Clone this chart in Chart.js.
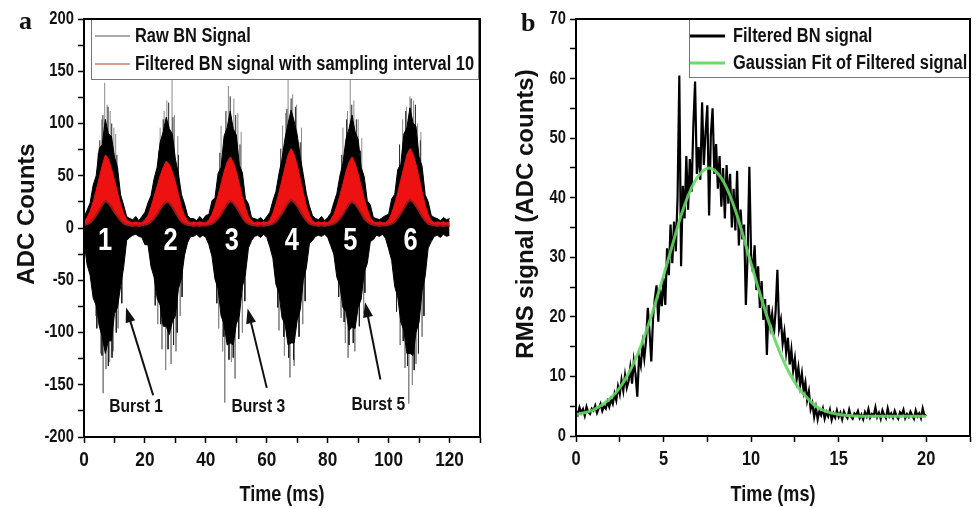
<!doctype html>
<html lang="en">
 <head>
  <meta charset="utf-8">
  <title>BN signal bursts</title>
  <style>
body { margin: 0; background: #fff; }
.wrap { position: relative; width: 976px; height: 508px; overflow: hidden; }
.panel { position: absolute; top: 0; }
.letter { position: absolute; font: bold 26px 'Liberation Serif', 'DejaVu Serif', serif; line-height: 1; color: #111; }
  </style>
 </head>
 <body>
  <div class="wrap">
   <canvas id="chartA" class="panel" width="488" height="508" style="left:0"></canvas>
   <canvas id="chartB" class="panel" width="488" height="508" style="left:488px"></canvas>
   <div class="letter" style="left:19px;top:8px">a</div>
   <div class="letter" style="left:521px;top:10px">b</div>
  </div>

  <script src="https://cdn.jsdelivr.net/npm/chart.js@4.4.1/dist/chart.umd.min.js"></script>
  <script>
// ---------- panel a : raw BN signal, one column per ms (0..120 ms)
var timeA0 = 0;
var timeAStep = 1;
// upper / lower edge of the black raw signal
var rawTop = [
  10, 17, 24, 41, 50, 76, 80, 104, 90, 88, 68, 58, 32, 22, 11, 9,
  8, 11, 7,
  11, 15, 24, 31, 47, 58, 82, 92, 106, 95, 90, 66, 52, 32, 23, 12, 9,
  9, 7, 11, 8,
  12, 13, 26, 29, 52, 58, 88, 96, 112, 95, 89, 60, 53, 28, 23, 10, 9,
  8, 10, 7,
  11, 15, 26, 35, 52, 66, 86, 100, 113, 102, 89, 68, 51, 33, 21, 12, 9,
  8, 11, 7,
  10, 14, 24, 33, 50, 62, 85, 95, 108, 92, 85, 58, 49, 26, 22, 10, 9,
  8, 10,
  12, 13, 28, 32, 56, 61, 90, 96, 115, 101, 97, 68, 59, 32, 25, 12, 10,
  9, 7, 10, 8, 9
];
var rawBot = [
  -12, -35, -45, -67, -74, -94, -104, -120, -108, -108, -82, -76, -56, -38, -12, -9,
  -7, -6, -8,
  -9, -16, -16, -37, -47, -67, -74, -94, -94, -102, -90, -84, -58, -48, -26, -14, -8,
  -8, -6, -9, -7,
  -9, -16, -27, -49, -58, -84, -92, -112, -110, -112, -92, -84, -56, -44, -19, -12, -8,
  -7, -9, -6,
  -9, -18, -29, -54, -62, -86, -92, -112, -110, -110, -88, -78, -50, -38, -15, -12, -8,
  -7, -8, -6,
  -9, -17, -25, -47, -55, -76, -80, -98, -95, -96, -76, -68, -42, -34, -13, -11, -7,
  -8, -6,
  -10, -20, -31, -56, -66, -90, -98, -120, -120, -122, -100, -90, -60, -46, -19, -13, -8,
  -7, -9, -6, -8, -7
];
// filtered signal (sampling interval 10), red band
var redTop = [
  6, 10, 16, 25, 36, 48, 60, 70, 66, 57, 46, 34, 23, 14, 8, 6,
  5, 6, 5,
  5, 8, 12, 20, 30, 40, 50, 58, 64, 61, 54, 44, 32, 20, 12, 7, 5,
  6, 5, 6, 5,
  5, 8, 13, 21, 31, 42, 54, 63, 68, 63, 54, 42, 30, 19, 11, 7, 5,
  6, 5, 6,
  5, 8, 14, 23, 34, 46, 58, 70, 76, 70, 60, 47, 34, 21, 12, 7, 5,
  6, 5, 6,
  5, 8, 13, 21, 31, 42, 54, 63, 68, 62, 52, 40, 28, 18, 10, 6, 5,
  6, 5,
  5, 8, 14, 23, 34, 46, 58, 70, 76, 71, 61, 48, 35, 22, 13, 7, 5,
  6, 5, 6, 5, 6
];
var redBot = [
  2.5, 3.5, 5, 8, 12, 17, 22, 26, 24, 20, 15, 11, 7, 4.5, 3, 2.5,
  2, 2.5, 2,
  2.5, 3, 4, 6, 9, 13, 18, 22, 25, 24, 20, 15, 10, 6, 4, 3, 2.5,
  2, 2.5, 2, 2.5,
  2.5, 3, 4, 6, 9, 13, 18, 23, 26, 24, 20, 15, 10, 6, 4, 3, 2.5,
  2, 2.5, 2,
  2.5, 3, 4, 6, 10, 14, 19, 24, 27, 25, 21, 16, 11, 7, 4, 3, 2.5,
  2, 2.5, 2,
  2.5, 3, 4, 6, 9, 13, 18, 23, 25, 23, 19, 14, 9, 6, 4, 3, 2.5,
  2, 2.5,
  2.5, 3, 4, 6, 10, 14, 19, 24, 27, 25, 21, 16, 11, 7, 4, 3, 2.5,
  2, 2.5, 2, 2.5, 2
];
// single tall raw samples (grey)
var spikeX = [6.8, 7.6, 8.6, 5.8, 9.8, 6.3, 7.2, 8.4, 9.6, 5.5, 4.6, 10.4, 3.8, 11.2,
  28.9, 27.2, 26.3, 29.7, 26.8, 28.6, 25.6, 30.2, 25.0, 30.8, 24.2, 31.6,
  47.4, 49.2, 50.5, 46.2, 49.6, 48.4, 45.5, 45.0, 51.6, 44.2, 52.0,
  67.0, 68.5, 69.8, 66.2, 67.6, 69.0, 65.8, 65.2, 71.4, 64.0, 71.8,
  87.4, 88.6, 86.5, 90.0, 86.7, 88.9, 85.8, 85.0, 91.2, 84.4, 91.8,
  107.0, 108.2, 105.9, 109.5, 106.6, 107.8, 105.4, 109.0, 104.6, 110.6, 103.8, 111.0];
var spikeY = [139, 118, 112, 104, 96, -158, -135, -128, -118, -120, 72, 90, -84, -96,
  160, 122, 112, 108, -136, -130, -116, -118, 96, 88, -92, -84,
  136, 124, 110, -167, -144, -128, -118, 98, 92, -96, -100,
  160, 128, 118, 110, -143, -132, -122, 98, 96, -98, -92,
  160, 122, 112, 104, -124, -118, -110, 96, 86, -86, -82,
  126, 122, 116, 100, -168, -150, -134, -130, 104, 92, -112, -104];
// shorter raw samples poking out of the black band (dark)
var darkSpikeX = [5.2, 6.2, 7.9, 9.1, 10.8, 4.2, 5.9, 8.0, 9.2, 10.6, 12.4,
  24.6, 26.0, 27.8, 29.2, 31.0, 23.4, 25.2, 27.6, 29.4, 30.6, 32.2,
  44.6, 46.6, 48.0, 49.8, 51.2, 43.6, 45.9, 47.6, 49.0, 50.8, 52.8,
  64.6, 66.6, 68.0, 69.4, 71.0, 63.6, 65.6, 67.2, 68.8, 70.6, 72.6,
  84.6, 86.2, 87.9, 89.4, 90.8, 83.6, 85.4, 87.0, 88.4, 90.4, 92.2,
  103.6, 105.6, 107.4, 108.8, 110.4, 102.6, 104.8, 106.2, 108.4, 109.8, 111.6];
var darkSpikeY = [84, 108, 116, 100, 70, -96, -122, -132, -124, -100, -72,
  74, 104, 120, 106, 70, -74, -92, -116, -112, -100, -66,
  72, 112, 126, 108, 80, -72, -104, -126, -124, -106, -70,
  76, 114, 124, 116, 82, -76, -104, -124, -126, -104, -70,
  70, 104, 118, 104, 74, -66, -90, -112, -110, -94, -62,
  80, 112, 124, 118, 84, -80, -108, -132, -136, -120, -84];

var burstNumText = ['1', '2', '3', '4', '5', '6'];
var burstNumX = [6.9, 28.4, 48.5, 68.2, 87.4, 107.2];
var burstNumY = -13;
var burstLabelText = ['Burst 1', 'Burst 3', 'Burst 5'];
var burstLabelX = [17.1, 57.2, 96.6];
var burstLabelY = [-171, -171, -169];
var arrowFromX = [22.7, 60.0, 97.3];
var arrowFromY = [-160, -153, -145];
var arrowToX = [13.8, 53.7, 92.3];
var arrowToY = [-76, -77, -71];

// ---------- panel b : RMS of filtered signal, every 0.1 ms (0..20 ms)
var rmsT0 = 0;
var rmsStep = 0.1;
var rmsSignal = [
  4.2, 3.6, 4.8, 3.9, 4.5, 3.4, 4.9, 4.0, 3.7, 4.6,
  4.3, 5.1, 3.9, 4.7, 5.4, 4.2, 5.0, 4.6, 5.8, 4.9,
  6.2, 5.4, 7.1, 6.0, 8.3, 7.0, 9.4, 7.6, 10.2, 8.1,
  9.2, 11.5, 8.8, 12.6, 10.4, 6.6, 13.2, 11.8, 15.4, 13.0,
  16.0, 21.5, 17.5, 12.5, 19.8, 23.0, 25.3, 19.2, 24.6, 21.8,
  26.5, 22.0, 31.5, 27.0, 35.5, 29.0, 36.0, 31.0, 40.0, 60.5,
  28.5, 42.0, 36.5, 47.0, 38.0, 46.5, 41.0, 52.0, 59.5, 44.0,
  48.5, 43.0, 56.0, 45.5, 51.0, 55.5, 37.0, 50.5, 55.0, 44.0,
  49.0, 41.5, 47.0, 38.5, 45.0, 36.5, 45.5, 39.0, 44.0, 35.0,
  41.5, 34.5, 44.5, 32.0, 38.0, 33.0, 35.5, 22.0, 30.5, 45.2,
  30.0, 27.5, 32.0, 24.5, 28.5, 21.5, 26.0, 19.5, 23.0, 13.6,
  22.0, 18.5, 20.5, 17.0, 21.0, 27.9, 18.0, 19.5, 15.5, 17.5,
  14.0, 16.5, 12.0, 14.5, 11.0, 13.0, 9.5, 11.5, 8.5, 10.5,
  7.5, 9.0, 6.0, 7.5, 4.5, 5.5, 3.2, 4.8, 2.8, 4.2,
  3.5, 4.6, 2.9, 4.0, 3.3, 4.4, 2.7, 3.8, 3.1, 4.3,
  3.2, 3.9, 2.8, 4.1, 3.4, 3.0, 4.4, 3.3, 2.9, 3.8,
  3.5, 4.2, 3.0, 3.6, 2.8, 4.0, 3.3, 4.5, 3.1, 3.7,
  3.4, 4.8, 3.2, 3.9, 2.9, 4.3, 3.5, 3.0, 4.6, 3.3,
  3.8, 3.1, 4.2, 3.4, 2.9, 4.0, 3.6, 4.4, 3.0, 3.7,
  3.2, 4.1, 3.5, 2.9, 4.3, 3.3, 3.8, 3.0, 4.6, 3.4,
  3.6
];
// gaussian fit
var fitT = [0, 1, 2, 2.5, 3, 3.5, 4, 4.5, 5, 5.5, 6, 6.5, 7, 7.6, 8.2, 8.7, 9.2, 9.7,
  10.2, 10.7, 11.2, 11.7, 12.2, 12.7, 13.2, 13.7, 14.2, 15, 16, 17, 18, 19, 20];
var fitY = [3.6, 4.4, 6.4, 8.1, 10.5, 13.6, 17.5, 22.0, 26.9, 32.0, 37.0, 41.0, 43.7, 45.0, 43.7, 41.0, 37.0, 32.0,
  26.9, 22.0, 17.5, 13.6, 10.5, 8.1, 6.4, 5.0, 4.2, 3.6, 3.35, 3.3, 3.3, 3.3, 3.3];

var FONT = "'Liberation Sans', Arial, sans-serif";

// no narrow font installed: squeeze every label drawn on the canvas instead
function narrowText(id, factor) {
  var canvas = document.getElementById(id);
  var c = canvas.getContext('2d');
  var fill = c.fillText;
  c.fillText = function(text, x, y) {
    this.save();
    this.translate(x, y);
    this.scale(factor, 1);
    fill.call(this, text, 0, 0);
    this.restore();
  };
  c.wideFillText = function(text, x, y) { fill.call(this, text, x, y); };
  return canvas;
}

function series(vals, t0, dt) {
  return vals.map(function(v, i) { return {x: t0 + i * dt, y: v}; });
}

function spikes(xs, ys) {
  var pts = [];
  xs.forEach(function(x, i) {
    pts.push({x: x, y: 0}, {x: x, y: ys[i]}, {x: x, y: null});
  });
  return pts;
}

function lineSet(data, color, width, order) {
  return {data: data, showLine: true, borderColor: color, borderWidth: width,
    pointRadius: 0, pointHoverRadius: 0, order: order};
}

function arrow(c, x1, y1, x2, y2) {
  var a = Math.atan2(y2 - y1, x2 - x1), head = 15, half = 5;
  c.beginPath();
  c.moveTo(x1, y1);
  c.lineTo(x2 - Math.cos(a) * head * 0.8, y2 - Math.sin(a) * head * 0.8);
  c.stroke();
  c.beginPath();
  c.moveTo(x2, y2);
  c.lineTo(x2 - head * Math.cos(a) + half * Math.sin(a), y2 - head * Math.sin(a) - half * Math.cos(a));
  c.lineTo(x2 - head * Math.cos(a) - half * Math.sin(a), y2 - head * Math.sin(a) + half * Math.cos(a));
  c.closePath();
  c.fill();
}

function drawLegend(c, box, items) {
  c.save();
  c.fillStyle = '#fff';
  c.fillRect(box.x, box.y, box.w, box.h);
  c.strokeStyle = '#777';
  c.lineWidth = 1;
  c.strokeRect(box.x + 0.5, box.y + 0.5, box.w, box.h);
  c.font = 'bold 20px ' + FONT;
  c.textBaseline = 'middle';
  c.fillStyle = '#111';
  items.forEach(function(it) {
    c.strokeStyle = it.color;
    c.lineWidth = it.width;
    c.beginPath();
    c.moveTo(box.lineX0, it.y);
    c.lineTo(box.lineX1, it.y);
    c.stroke();
    c.fillText(it.text, box.textX, it.y);
  });
  c.restore();
}

function drawYTitle(c, text, x, y) {
  c.save();
  c.translate(x, y);
  c.rotate(-Math.PI / 2);
  c.font = 'bold 24px ' + FONT;
  c.fillStyle = '#111';
  c.textAlign = 'center';
  c.textBaseline = 'middle';
  c.wideFillText(text, 0, 0);
  c.restore();
}

function drawFrame(chart) {
  var a = chart.chartArea, c = chart.ctx;
  c.save();
  c.strokeStyle = '#000';
  c.lineWidth = 2;
  c.strokeRect(a.left, a.top, a.right - a.left, a.bottom - a.top);
  c.restore();
}

function makeScales(o) {
  return {
    x: {
      type: 'linear', min: o.xMin, max: o.xMax,
      afterFit: function(s) { s.height = o.xHeight; },
      ticks: {stepSize: o.xStep, autoSkip: false, maxRotation: 0, padding: 5, color: '#111',
        font: {family: FONT, size: o.xFont, weight: 'bold'},
        callback: function(v) { return Math.abs(v % o.xLabelEvery) < 1e-6 ? v : ''; }},
      grid: {drawOnChartArea: false, tickLength: 6, color: '#000', tickWidth: 1.5},
      border: {color: '#000', width: 2},
      title: {display: true, text: 'Time (ms)', color: '#111', padding: {top: 0, bottom: 0},
        font: {family: FONT, size: 22, weight: 'bold'}}
    },
    y: {
      type: 'linear', min: o.yMin, max: o.yMax,
      afterFit: function(s) { s.width = o.yWidth; },
      ticks: {stepSize: o.yStep, autoSkip: false, padding: 4, color: '#111',
        font: {family: FONT, size: 18, weight: 'bold'},
        callback: function(v) { return Math.abs(v % o.yLabelEvery) < 1e-6 ? v : ''; }},
      grid: {drawOnChartArea: false, tickLength: 6, color: '#000', tickWidth: 1.5},
      border: {color: '#000', width: 2}
    }
  };
}

var burstNotes = {
  id: 'burstNotes',
  afterDatasetsDraw: function(chart) {
    var c = chart.ctx, xs = chart.scales.x, ys = chart.scales.y;
    c.save();
    c.fillStyle = '#fff';
    c.font = 'bold 31px ' + FONT;
    c.textAlign = 'center';
    c.textBaseline = 'middle';
    burstNumX.forEach(function(v, i) {
      c.fillText(burstNumText[i], xs.getPixelForValue(v), ys.getPixelForValue(burstNumY));
    });
    c.strokeStyle = '#111';
    c.fillStyle = '#111';
    c.lineWidth = 2;
    arrowFromX.forEach(function(v, i) {
      arrow(c, xs.getPixelForValue(v), ys.getPixelForValue(arrowFromY[i]),
        xs.getPixelForValue(arrowToX[i]), ys.getPixelForValue(arrowToY[i]));
    });
    c.font = 'bold 19px ' + FONT;
    burstLabelText.forEach(function(t, i) {
      c.fillText(t, xs.getPixelForValue(burstLabelX[i]), ys.getPixelForValue(burstLabelY[i]));
    });
    c.restore();
  },
  afterDraw: function(chart) {
    drawLegend(chart.ctx, {x: 91, y: 19, w: 387, h: 60, lineX0: 95, lineX1: 130, textX: 135}, [
      {color: '#8c8c8c', width: 1.5, y: 36, text: 'Raw BN Signal'},
      {color: '#c9826f', width: 1.5, y: 64, text: 'Filtered BN signal with sampling interval 10'}
    ]);
    drawYTitle(chart.ctx, 'ADC Counts', 27, 214);
    drawFrame(chart);
  }
};

var rmsNotes = {
  id: 'rmsNotes',
  afterDraw: function(chart) {
    drawLegend(chart.ctx, {x: 201, y: 19, w: 281, h: 58, lineX0: 202, lineX1: 237, textX: 245}, [
      {color: '#000', width: 3, y: 36, text: 'Filtered BN signal'},
      {color: '#6fd86f', width: 3, y: 63, text: 'Gaussian Fit of Filtered signal'}
    ]);
    drawYTitle(chart.ctx, 'RMS signal (ADC counts)', 38, 214);
    drawFrame(chart);
  }
};

var rawTopSet = lineSet(series(rawTop, timeA0, timeAStep), '#000', 1, 4);
var rawBotSet = lineSet(series(rawBot, timeA0, timeAStep), '#000', 1, 4);
rawBotSet.fill = {target: 2};
rawBotSet.backgroundColor = '#000';
var redTopSet = lineSet(series(redTop, timeA0, timeAStep), '#ee1111', 1, 2);
var redBotSet = lineSet(series(redBot, timeA0, timeAStep), '#9c1a1a', 2, 1);
redBotSet.fill = {target: 4};
redBotSet.backgroundColor = '#ee1111';

var chartA = new Chart(narrowText('chartA', 0.82), {
  type: 'scatter',
  data: {
    datasets: [
      lineSet(spikes(spikeX, spikeY), '#8a8a8a', 1, 6),
      lineSet(spikes(darkSpikeX, darkSpikeY), '#222', 1, 5),
      rawTopSet,
      rawBotSet,
      redTopSet,
      redBotSet
    ]
  },
  options: {
    responsive: false,
    animation: false,
    layout: {padding: {top: 19, right: 8, left: 0, bottom: 0}},
    plugins: {legend: {display: false}, tooltip: {enabled: false}},
    scales: makeScales({xMin: 0, xMax: 130, xStep: 10, xLabelEvery: 20, xHeight: 71, xFont: 21,
      yMin: -200, yMax: 200, yStep: 25, yLabelEvery: 50, yWidth: 84})
  },
  plugins: [burstNotes]
});

var fitSet = lineSet(fitT.map(function(t, i) { return {x: t, y: fitY[i]}; }), 'rgba(100,215,100,0.9)', 3, 1);
fitSet.cubicInterpolationMode = 'monotone';

var chartB = new Chart(narrowText('chartB', 0.82), {
  type: 'scatter',
  data: {
    datasets: [
      lineSet(series(rmsSignal, rmsT0, rmsStep), '#000', 2.2, 2),
      fitSet
    ]
  },
  options: {
    responsive: false,
    animation: false,
    layout: {padding: {top: 19, right: 6, left: 0, bottom: 0}},
    plugins: {legend: {display: false}, tooltip: {enabled: false}},
    scales: makeScales({xMin: 0, xMax: 22.5, xStep: 2.5, xLabelEvery: 5, xHeight: 72, xFont: 20,
      yMin: 0, yMax: 70, yStep: 5, yLabelEvery: 10, yWidth: 88})
  },
  plugins: [rmsNotes]
});
  </script>
 </body>
</html>
